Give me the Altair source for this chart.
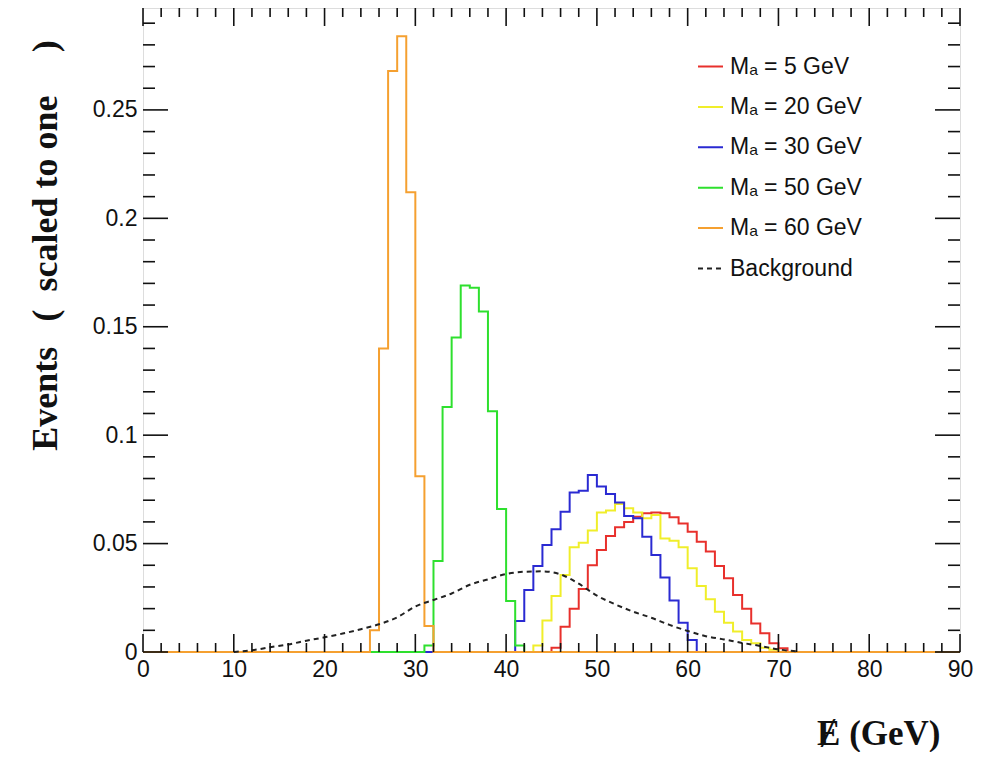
import altair as alt
import pandas as pd

# ---------------- data ----------------
series_names = ["Mₐ = 5 GeV", "Mₐ = 20 GeV", "Mₐ = 30 GeV", "Mₐ = 50 GeV", "Mₐ = 60 GeV", "Background"]
series_colors = ["#e8302c", "#f0ee2a", "#2a2ad2", "#2ee02e", "#f5a030", "#222222"]
series_dashes = [[1, 0], [1, 0], [1, 0], [1, 0], [1, 0], [5, 4]]

# 1-GeV bins: first bin low edge, then bin contents
red_start = 45
red_vals = [0.002, 0.0117, 0.020, 0.029, 0.040, 0.047, 0.0535, 0.0575, 0.060, 0.0624,
            0.064, 0.0643, 0.064, 0.0621, 0.0593, 0.0555, 0.0509, 0.0463, 0.0397, 0.034,
            0.0263, 0.020, 0.0132, 0.0086, 0.004, 0.0017]
yellow_start = 43
yellow_vals = [0.003, 0.0145, 0.0258, 0.0355, 0.0483, 0.0504, 0.056, 0.0643, 0.0652, 0.0683,
               0.0663, 0.0643, 0.0617, 0.0632, 0.0524, 0.0513, 0.0483, 0.0386, 0.0304, 0.0243,
               0.0186, 0.0135, 0.0094, 0.0055, 0.004, 0.002, 0.001]
blue_start = 41
blue_vals = [0.0143, 0.0286, 0.0397, 0.0494, 0.0566, 0.0647, 0.0736, 0.0744, 0.0816, 0.0763,
             0.0729, 0.0689, 0.0627, 0.0617, 0.0532, 0.0447, 0.0344, 0.0237, 0.0135, 0.0055]
green_start = 31
green_vals = [0.003, 0.042, 0.113, 0.145, 0.169, 0.168, 0.157, 0.111, 0.066, 0.0235, 0.003]
orange_start = 25
orange_vals = [0.01, 0.14, 0.268, 0.284, 0.212, 0.081, 0.012]

# background (smooth dashed curve)
bg_x = [10, 12, 14, 16, 18, 20, 22, 24, 26, 28, 30, 32, 34, 36, 38, 40, 42, 44, 46, 48,
        50, 52, 54, 56, 58, 60, 62, 64, 66, 68, 70, 72]
bg_y = [0.0, 0.0008, 0.0022, 0.0035, 0.0052, 0.0068, 0.0085, 0.0105, 0.0128, 0.016,
        0.021, 0.024, 0.027, 0.031, 0.0335, 0.036, 0.037, 0.0372, 0.0358, 0.0315,
        0.026, 0.022, 0.0186, 0.0158, 0.0125, 0.0097, 0.0073, 0.0058, 0.0042, 0.0028,
        0.0012, 0.0003]

x_major = [0, 10, 20, 30, 40, 50, 60, 70, 80, 90]
x_minor = [v for v in range(0, 91, 2) if v % 10 != 0]
y_major = [0, 0.05, 0.1, 0.15, 0.2, 0.25]
y_minor = [round(v * 0.01, 2) for v in range(0, 30) if v % 5 != 0]

y_title = "Events\u2002\u2009(\u2002scaled to one\u2003\u2009)"
x_title = "\u0246 (GeV)"

# ---------------- build tables ----------------
rows = []
for name, start, vals in zip(series_names[:5],
                             [red_start, yellow_start, blue_start, green_start, orange_start],
                             [red_vals, yellow_vals, blue_vals, green_vals, orange_vals]):
    full = [0.0] * 90
    for i, v in enumerate(vals):
        full[start + i] = v
    for k in range(90):
        rows.append({"series": name, "x": k, "v": full[k]})
    rows.append({"series": name, "x": 90, "v": 0.0})
hist_df = pd.DataFrame(rows)
bg_df = pd.DataFrame({"series": "Background", "x": bg_x, "v": bg_y})

W, H = 817, 644
xscale = alt.Scale(domain=[0, 90], nice=False, zero=False)
yscale = alt.Scale(domain=[0, 0.297], nice=False)

legend = alt.Legend(orient="none", legendX=554, legendY=45, title=None,
                    symbolType="stroke", symbolSize=625, symbolStrokeWidth=2,
                    labelFontSize=23, labelFont="Liberation Sans", labelColor="#111",
                    rowPadding=14.4, labelOffset=6, padding=0, labelLimit=400)

color = alt.Color("series:N", scale=alt.Scale(domain=series_names, range=series_colors),
                  legend=legend)
dash = alt.StrokeDash("series:N", scale=alt.Scale(domain=series_names, range=series_dashes),
                      legend=legend)

xaxis = alt.Axis(values=x_major, ticks=False, domain=False, grid=False, labelFontSize=23,
                 labelFont="Liberation Sans", labelColor="#111", labelPadding=6,
                 labelFlush=False, labelOverlap=False,
                 title=x_title, titleFont="Liberation Serif", titleFontWeight="bold",
                 titleFontSize=35, titleColor="#111", titleAnchor="end", titleAlign="right",
                 titleX=797, titleY=92, titleBaseline="alphabetic")
yaxis = alt.Axis(values=y_major, format=".2~f", ticks=False, domain=False, grid=False,
                 labelFontSize=23, labelFont="Liberation Sans", labelColor="#111",
                 labelPadding=6, labelOverlap=False, labelFlush=False,
                 title=y_title, titleFont="Liberation Serif",
                 titleFontWeight="bold", titleFontSize=36, titleColor="#111",
                 titleAnchor="middle", titleX=-98, titleY=237, titleBaseline="middle",
                 titleAngle=270)

hist = alt.Chart(hist_df).mark_line(interpolate="step-after", strokeWidth=2).encode(
    x=alt.X("x:Q", scale=xscale, axis=xaxis),
    y=alt.Y("v:Q", scale=yscale, axis=yaxis),
    color=color, strokeDash=dash,
)
bg = alt.Chart(bg_df).mark_line(interpolate="monotone", strokeWidth=2).encode(
    x=alt.X("x:Q", scale=xscale, axis=xaxis),
    y=alt.Y("v:Q", scale=yscale, axis=yaxis),
    color=color, strokeDash=dash,
)


def xticks(vals, length, top):
    df = pd.DataFrame({"x": vals})
    if top:
        yy, yy2 = alt.value(0), alt.value(length)
    else:
        yy, yy2 = alt.value(H), alt.value(H - length)
    return alt.Chart(df).mark_rule(color="#111", strokeWidth=1.6).encode(
        x=alt.X("x:Q", scale=xscale), y=yy, y2=yy2)


def yticks(vals, length, right):
    df = pd.DataFrame({"v": vals})
    if right:
        xx, xx2 = alt.value(W), alt.value(W - length)
    else:
        xx, xx2 = alt.value(0), alt.value(length)
    return alt.Chart(df).mark_rule(color="#111", strokeWidth=1.6).encode(
        y=alt.Y("v:Q", scale=yscale), x=xx, x2=xx2)


layers = [
    hist, bg,
    xticks(x_major, 18, False), xticks(x_minor, 9, False),
    xticks(x_major, 18, True), xticks(x_minor, 9, True),
    yticks(y_major, 25, False), yticks(y_minor, 12, False),
    yticks(y_major, 25, True), yticks(y_minor, 12, True),
]

chart = alt.layer(*layers).properties(
    width=W, height=H,
    autosize=alt.AutoSizeParams(type="none"),
    padding={"left": 135, "top": 0, "right": 20, "bottom": 100},
).configure_view(stroke="#111", strokeWidth=2).configure(background="white")

chart.save("out.html", embed_options={"renderer": "svg", "actions": False})
